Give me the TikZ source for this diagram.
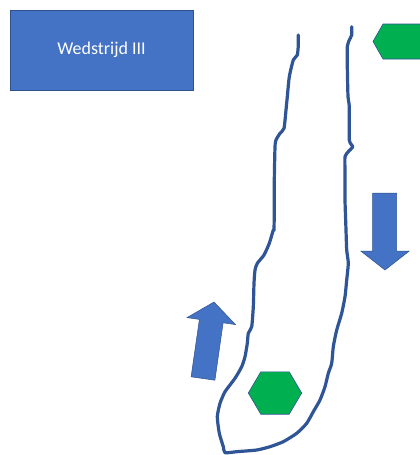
\documentclass[tikz,border=0pt]{standalone}
\usepackage{fontspec}
\setmainfont{Carlito}
\definecolor{boxblue}{RGB}{68,114,196}
\definecolor{edgeblue}{RGB}{47,82,143}
\definecolor{riverblue}{RGB}{47,85,151}
\definecolor{hexgreen}{RGB}{0,176,80}
\begin{document}
\begin{tikzpicture}[x=1pt,y=-1pt,
  box/.style={draw=edgeblue,line width=0.8pt,fill=boxblue,text=white,minimum width=183pt,minimum height=80pt,inner sep=0pt,font=\fontsize{18}{20}\selectfont},
  hexa/.style={draw=edgeblue,line width=0.6pt,fill=hexgreen},
  flowarrow/.style={draw=edgeblue,line width=0.5pt,fill=boxblue},
  river/.style={draw=riverblue,line width=3.2pt,line cap=round,line join=round}]
\useasboundingbox (0,0) rectangle (420,455);
\clip (0,0) rectangle (420,455);
\fill[white] (0,0) rectangle (420,455);
% title box
\node[box] (title) at (101.5,50) {Wedstrijd III};
% river outline
\draw[river] plot[smooth,tension=0.35] coordinates {
 (298.3,35) (298.3,45) (297.3,55) (293.3,60) (289.3,76.7) (287.3,96.7) (286,110)
 (284,128.3) (280,133.3) (276,140) (275,146.7) (274.3,180) (274.3,206.7) (274,230)
 (273.3,230) (269.3,243.3) (264,255) (257.3,263.3) (255,270) (254,283.3) (253.3,306.7)
 (251.7,326.7) (248.3,333.3) (247.3,343.3) (245,356.7) (241.7,366.7) (235,378.3)
 (225,391.7) (220,403.3) (217.3,416.7) (219.3,433.3) (223.3,446.7) (225,452.7)
 (236.7,451.7) (256.7,450) (270,446.7) (283.3,441.7) (296.7,433.3) (306.7,423.3)
 (313.3,411.7) (320,400) (325,386.7) (328.3,373.3) (331.7,363.3) (333.3,346.7)
 (336.7,330) (341.7,313.3) (345,296.7) (346.7,280) (348.3,263.3) (346.7,250) (346,230)
 (345,200) (345,173.3) (345,156.7) (348.3,151.7) (352.7,146.7) (349.3,140)
 (349.3,106.7) (348,96.7) (347.3,66.7) (347.3,46.7) (349.3,40) (351.7,35) (351.7,26.7)};
% hexagons
\draw[hexa] (373,41.5) -- (383,24) -- (423,24) -- (433,41.5) -- (423,59) -- (383,59) -- cycle;
\draw[hexa] (248.3,393) -- (260.8,371.8) -- (289.2,371.8) -- (301.7,393) -- (289.2,414.2) -- (260.8,414.2) -- cycle;
% down arrow
\draw[flowarrow] (372.7,193) -- (396.7,193) -- (396.7,251) -- (409.3,251) -- (385,270) -- (360.7,251) -- (372.7,251) -- cycle;
% up arrow (tilted)
\draw[flowarrow] (191.1,376.8) -- (214.9,380.2) -- (223.1,322.8) -- (235.5,324.6) -- (214,302) -- (187,317.6) -- (199.4,319.4) -- cycle;
\end{tikzpicture}
\end{document}
